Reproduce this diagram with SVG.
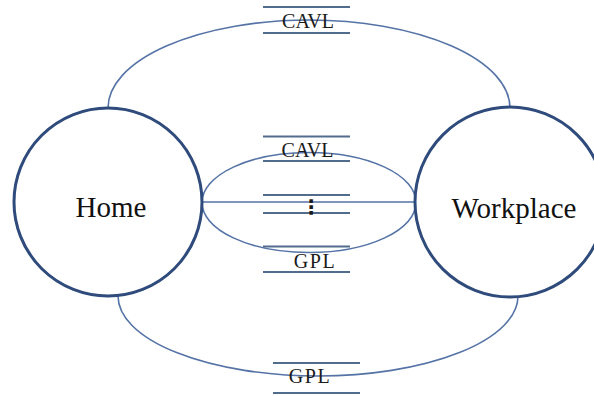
<svg xmlns="http://www.w3.org/2000/svg" width="594" height="396" viewBox="0 0 594 396">
  <style>
    .link { fill: none; stroke: #5573a6; stroke-width: 1.6; }
    .node { fill: #ffffff; stroke: #2f4b7c; stroke-width: 3; }
    .bar { stroke: #526c8e; stroke-width: 2; }
    .name { font-family: "Liberation Serif", "Times New Roman", serif; font-size: 29px; fill: #111111; text-anchor: middle; }
    .tag { font-family: "Liberation Serif", "Times New Roman", serif; font-size: 20px; fill: #1a1a1a; text-anchor: middle; }
  </style>
  <rect width="594" height="396" fill="#ffffff"/>

  <!-- routes between the two places -->
  <g id="connectors">
    <path class="link" d="M108,108 A201,88 0 0 1 510,108"/>
    <path class="link" d="M118,296 A200,80 0 0 0 518,296"/>
    <ellipse class="link" cx="309" cy="202.5" rx="107" ry="50"/>
    <line class="link" x1="200" y1="202" x2="418" y2="202"/>
  </g>

  <g id="home">
    <circle class="node" cx="108" cy="202" r="94"/>
    <text class="name" x="111" y="217">Home</text>
  </g>

  <g id="workplace">
    <circle class="node" cx="510" cy="202" r="95"/>
    <text class="name" x="514" y="218">Workplace</text>
  </g>

  <!-- route labels -->
  <g id="label-cavl-top">
    <line class="bar" x1="263" y1="7" x2="350" y2="7"/>
    <line class="bar" x1="263" y1="33" x2="350" y2="33"/>
    <text class="tag" x="308" y="28">CAVL</text>
  </g>
  <g id="label-cavl-mid">
    <line class="bar" x1="263" y1="136.5" x2="350" y2="136.5"/>
    <line class="bar" x1="263" y1="161" x2="350" y2="161"/>
    <text class="tag" x="307.5" y="157">CAVL</text>
  </g>
  <g id="label-more">
    <line class="bar" x1="263" y1="195" x2="350" y2="195"/>
    <line class="bar" x1="263" y1="213" x2="350" y2="213"/>
    <text x="311" y="214" font-family="DejaVu Sans, sans-serif" font-size="20" font-weight="bold" fill="#1a1a1a" text-anchor="middle">⋮</text>
  </g>
  <g id="label-gpl-mid">
    <line class="bar" x1="263" y1="246.5" x2="350" y2="246.5"/>
    <line class="bar" x1="263" y1="272" x2="350" y2="272"/>
    <text class="tag" x="315" y="268" letter-spacing="1.5">GPL</text>
  </g>
  <g id="label-gpl-bottom">
    <line class="bar" x1="273" y1="363" x2="360" y2="363"/>
    <line class="bar" x1="273" y1="393" x2="360" y2="393"/>
    <text class="tag" x="310" y="383" letter-spacing="1.5">GPL</text>
  </g>
</svg>
